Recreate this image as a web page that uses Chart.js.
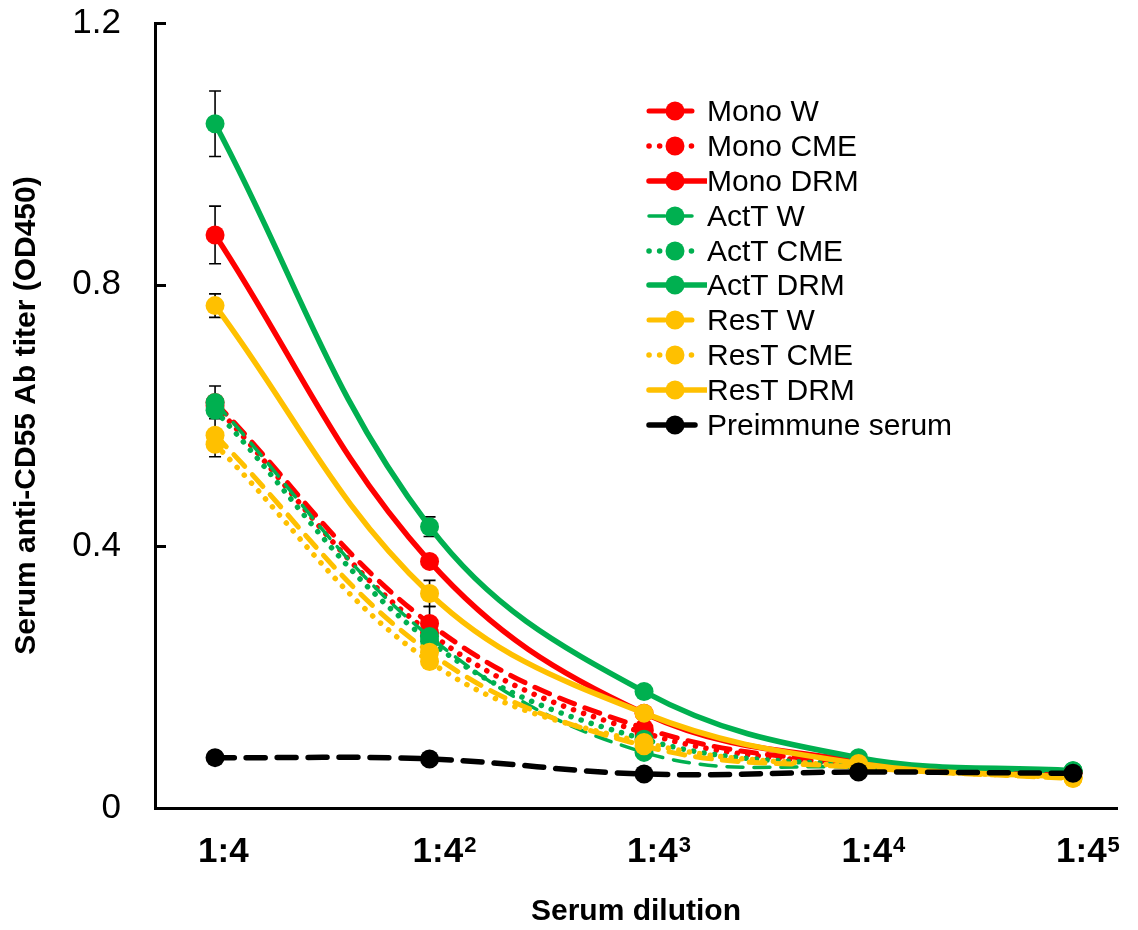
<!DOCTYPE html>
<html><head><meta charset="utf-8">
<script src="https://cdn.jsdelivr.net/npm/chart.js@4"></script>
<style>
html,body{margin:0;padding:0;background:#fff;}
#wrap{position:relative;width:1138px;height:930px;overflow:hidden;}
#legend{position:absolute;left:645px;top:94px;font-family:'Liberation Sans',Arial,sans-serif;font-size:30px;color:#000;line-height:1;}
.row{display:flex;align-items:center;height:34.8px;white-space:nowrap;}
.row svg{width:62px;height:34px;flex:none;}
</style></head>
<body><div id="wrap"><canvas id="c" width="1138" height="930"></canvas><div id="legend"></div></div>
<script>
// ---- data ----
const dilutionBase = "1:4";
const dilutionExponents = ["", "2", "3", "4", "5"];
const yTickValues = [0, 0.4, 0.8, 1.2];
const yTickLabels = ["0", "0.4", "0.8", "1.2"];
const xAxisTitle = "Serum dilution";
const yAxisTitle = "Serum anti-CD55 Ab titer (OD450)";

const seriesNames = ["Mono W", "Mono CME", "Mono DRM", "ActT W", "ActT CME", "ActT DRM", "ResT W", "ResT CME", "ResT DRM", "Preimmune serum"];

const monoW    = [0.620, 0.282, 0.122, 0.068, 0.055];
const monoCME  = [0.615, 0.268, 0.115, 0.066, 0.054];
const monoDRM  = [0.876, 0.377, 0.145, 0.072, 0.055];
const actW     = [0.620, 0.262, 0.085, 0.062, 0.057];
const actCME   = [0.608, 0.255, 0.105, 0.065, 0.056];
const actDRM   = [1.046, 0.430, 0.178, 0.077, 0.057];
const resW     = [0.570, 0.238, 0.095, 0.062, 0.045];
const resCME   = [0.556, 0.224, 0.100, 0.063, 0.046];
const resDRM   = [0.768, 0.328, 0.145, 0.068, 0.047];
const preimmune= [0.077, 0.075, 0.052, 0.055, 0.053];

// error bar half-widths (null = none drawn)
const monoWErr   = [null, 0.026, null, null, null];
const monoDRMErr = [0.044, null, null, null, null];
const actWErr    = [0.025, null, null, null, null];
const actDRMErr  = [0.050, 0.015, null, null, null];
const resWErr    = [0.033, null, null, null, null];
const resDRMErr  = [0.018, 0.020, null, null, null];

const dilutionLabels = dilutionExponents.map(e => dilutionBase + e);

// ---- styles ----
const RED = "#FF0000", GREEN = "#00B050", YEL = "#FFC000", BLK = "#000000";
const DASH = [16, 11], DOT = [0.1, 10.5], BDASH = [19, 12];
const FONT = "'Liberation Sans', Arial, sans-serif";

function ds(label, data, color, dash, width, err) {
  return {
    label, data: data.map((v, i) => ({x: i, y: v})),
    borderColor: color, backgroundColor: color,
    borderWidth: width, borderDash: dash, borderCapStyle: 'round',
    pointRadius: 9.5, pointHoverRadius: 9.5, pointBorderWidth: 0,
    pointBackgroundColor: color, tension: 0.38, fill: false,
    errorBars: err || null
  };
}

const datasets = [
  ds(seriesNames[0], monoW, RED, DASH, 5, monoWErr),
  ds(seriesNames[1], monoCME, RED, DOT, 5.5),
  ds(seriesNames[2], monoDRM, RED, [], 5.5, monoDRMErr),
  ds(seriesNames[3], actW, GREEN, DASH, 3.5, actWErr),
  ds(seriesNames[4], actCME, GREEN, DOT, 5.5),
  ds(seriesNames[5], actDRM, GREEN, [], 5.5, actDRMErr),
  ds(seriesNames[6], resW, YEL, DASH, 5, resWErr),
  ds(seriesNames[7], resCME, YEL, DOT, 5.5),
  ds(seriesNames[8], resDRM, YEL, [], 5.5, resDRMErr),
  ds(seriesNames[9], preimmune, BLK, BDASH, 5.5)
];
// later series on top
datasets.forEach((d, i) => d.order = datasets.length - i);

const decorPlugin = {
  id: 'decor',
  beforeDatasetsDraw(chart) {
    const ctx = chart.ctx, xs = chart.scales.x, ys = chart.scales.y;
    ctx.save();
    ctx.strokeStyle = '#000'; ctx.lineWidth = 1.6;
    chart.data.datasets.forEach(d => {
      if (!d.errorBars) return;
      d.errorBars.forEach((e, i) => {
        if (e == null) return;
        const px = xs.getPixelForValue(d.data[i].x);
        const y1 = ys.getPixelForValue(d.data[i].y + e);
        const y2 = ys.getPixelForValue(d.data[i].y - e);
        ctx.beginPath();
        ctx.moveTo(px, y1); ctx.lineTo(px, y2);
        ctx.moveTo(px - 6, y1); ctx.lineTo(px + 6, y1);
        ctx.moveTo(px - 6, y2); ctx.lineTo(px + 6, y2);
        ctx.stroke();
      });
    });
    ctx.restore();
  },
  afterDraw(chart) {
    const ctx = chart.ctx, ys = chart.scales.y, xs = chart.scales.x, area = chart.chartArea;
    ctx.save();
    // inward y ticks
    ctx.strokeStyle = '#000'; ctx.lineWidth = 3;
    yTickValues.forEach(v => {
      const py = Math.round(ys.getPixelForValue(v)) + 0.5;
      ctx.beginPath(); ctx.moveTo(area.left, py); ctx.lineTo(area.left + 11, py); ctx.stroke();
    });
    // x tick labels with superscript exponents
    ctx.fillStyle = '#000'; ctx.textBaseline = 'alphabetic'; ctx.textAlign = 'left';
    xs.ticks.forEach(t => {
      const i = t.value;
      const px = xs.getPixelForValue(i) - 17;
      const baseY = area.bottom + 54;
      ctx.font = "bold 35px " + FONT;
      ctx.fillText(dilutionBase, px, baseY);
      const w = ctx.measureText(dilutionBase).width;
      if (dilutionExponents[i]) {
        ctx.font = "bold 22px " + FONT;
        ctx.fillText(dilutionExponents[i], px + w + 1, baseY - 10);
      }
    });
    ctx.restore();
  }
};

const chart = new Chart(document.getElementById('c'), {
  type: 'line',
  data: { datasets },
  plugins: [decorPlugin],
  options: {
    responsive: false, animation: false, devicePixelRatio: 1,
    layout: { padding: { left: 0, top: 23, right: 21, bottom: 0 } },
    plugins: { legend: { display: false }, tooltip: { enabled: false } },
    events: [],
    scales: {
      x: {
        type: 'linear', min: -0.28, max: 4.205,
        afterBuildTicks: s => { s.ticks = dilutionLabels.map((_, i) => ({ value: i })); },
        afterFit: s => { s.height = 122; s.paddingLeft = 0; s.paddingRight = 0; },
        grid: { display: false, drawTicks: false },
        border: { display: true, color: '#000', width: 3 },
        ticks: { display: false, callback: v => dilutionLabels[v] },
        title: {
          display: true, text: xAxisTitle, color: '#000', padding: { top: 0, bottom: 0 },
          font: { family: FONT, size: 30, weight: 'bold' }
        }
      },
      y: {
        min: 0, max: 1.2,
        afterBuildTicks: s => { s.ticks = yTickValues.map(v => ({ value: v })); },
        afterFit: s => { s.width = 155; s.paddingTop = 0; s.paddingBottom = 0; },
        grid: { display: false, drawTicks: false },
        border: { display: true, color: '#000', width: 3 },
        ticks: {
          callback: v => yTickLabels[yTickValues.indexOf(v)], padding: 34,
          color: '#000', font: { family: FONT, size: 35 }
        },
        title: {
          display: true, text: yAxisTitle, color: '#000', padding: { top: 9, bottom: 0 },
          font: { family: FONT, size: 30, weight: 'bold' }
        }
      }
    }
  }
});

// ---- legend (built from datasets) ----
const leg = document.getElementById('legend');
datasets.forEach(d => {
  const row = document.createElement('div'); row.className = 'row';
  const solid = d.borderDash.length === 0;
  const x2 = solid ? 62 : 50;
  const dash = d.borderDash.length ? d.borderDash.join(' ') : 'none';
  row.innerHTML = `<svg viewBox="0 0 62 34"><line x1="4" y1="17" x2="${x2}" y2="17" stroke="${d.borderColor}" stroke-width="${d.borderWidth}" stroke-linecap="round" stroke-dasharray="${dash}"/><circle cx="30" cy="17" r="9.5" fill="${d.borderColor}"/></svg>`;
  const t = document.createElement('span'); t.textContent = d.label; row.appendChild(t);
  leg.appendChild(row);
});
</script>
</body></html>
